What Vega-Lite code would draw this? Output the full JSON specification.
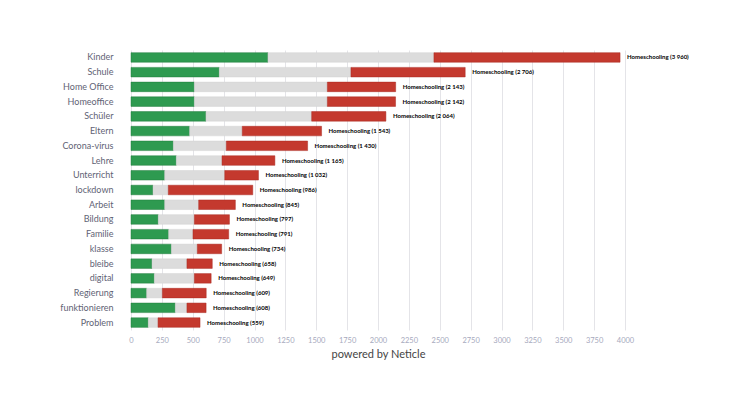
{
  "$schema": "https://vega.github.io/schema/vega-lite/v6.json",
  "autosize": "none",
  "width": 494,
  "height": 280,
  "padding": {"left": 131, "top": 50, "right": 123, "bottom": 66},
  "background": "white",
  "config": {
    "view": {"stroke": null},
    "font": "Lato"
  },
  "resolve": {"axis": {"x": "independent", "y": "independent"}},
  "datasets": {
    "segments": [
      {"term": "Kinder", "sentiment": "positive", "value": 1109},
      {"term": "Kinder", "sentiment": "neutral", "value": 1344},
      {"term": "Kinder", "sentiment": "negative", "value": 1507},
      {"term": "Schule", "sentiment": "positive", "value": 715},
      {"term": "Schule", "sentiment": "neutral", "value": 1066},
      {"term": "Schule", "sentiment": "negative", "value": 925},
      {"term": "Home Office", "sentiment": "positive", "value": 513},
      {"term": "Home Office", "sentiment": "neutral", "value": 1077},
      {"term": "Home Office", "sentiment": "negative", "value": 553},
      {"term": "Homeoffice", "sentiment": "positive", "value": 513},
      {"term": "Homeoffice", "sentiment": "neutral", "value": 1077},
      {"term": "Homeoffice", "sentiment": "negative", "value": 552},
      {"term": "Schüler", "sentiment": "positive", "value": 607},
      {"term": "Schüler", "sentiment": "neutral", "value": 856},
      {"term": "Schüler", "sentiment": "negative", "value": 601},
      {"term": "Eltern", "sentiment": "positive", "value": 475},
      {"term": "Eltern", "sentiment": "neutral", "value": 426},
      {"term": "Eltern", "sentiment": "negative", "value": 642},
      {"term": "Corona-virus", "sentiment": "positive", "value": 343},
      {"term": "Corona-virus", "sentiment": "neutral", "value": 429},
      {"term": "Corona-virus", "sentiment": "negative", "value": 658},
      {"term": "Lehre", "sentiment": "positive", "value": 367},
      {"term": "Lehre", "sentiment": "neutral", "value": 370},
      {"term": "Lehre", "sentiment": "negative", "value": 428},
      {"term": "Unterricht", "sentiment": "positive", "value": 273},
      {"term": "Unterricht", "sentiment": "neutral", "value": 486},
      {"term": "Unterricht", "sentiment": "negative", "value": 273},
      {"term": "lockdown", "sentiment": "positive", "value": 178},
      {"term": "lockdown", "sentiment": "neutral", "value": 124},
      {"term": "lockdown", "sentiment": "negative", "value": 684},
      {"term": "Arbeit", "sentiment": "positive", "value": 273},
      {"term": "Arbeit", "sentiment": "neutral", "value": 275},
      {"term": "Arbeit", "sentiment": "negative", "value": 297},
      {"term": "Bildung", "sentiment": "positive", "value": 221},
      {"term": "Bildung", "sentiment": "neutral", "value": 292},
      {"term": "Bildung", "sentiment": "negative", "value": 284},
      {"term": "Familie", "sentiment": "positive", "value": 305},
      {"term": "Familie", "sentiment": "neutral", "value": 197},
      {"term": "Familie", "sentiment": "negative", "value": 289},
      {"term": "klasse", "sentiment": "positive", "value": 327},
      {"term": "klasse", "sentiment": "neutral", "value": 210},
      {"term": "klasse", "sentiment": "negative", "value": 197},
      {"term": "bleibe", "sentiment": "positive", "value": 170},
      {"term": "bleibe", "sentiment": "neutral", "value": 283},
      {"term": "bleibe", "sentiment": "negative", "value": 205},
      {"term": "digital", "sentiment": "positive", "value": 189},
      {"term": "digital", "sentiment": "neutral", "value": 324},
      {"term": "digital", "sentiment": "negative", "value": 136},
      {"term": "Regierung", "sentiment": "positive", "value": 127},
      {"term": "Regierung", "sentiment": "neutral", "value": 127},
      {"term": "Regierung", "sentiment": "negative", "value": 355},
      {"term": "funktionieren", "sentiment": "positive", "value": 359},
      {"term": "funktionieren", "sentiment": "neutral", "value": 94},
      {"term": "funktionieren", "sentiment": "negative", "value": 155},
      {"term": "Problem", "sentiment": "positive", "value": 140},
      {"term": "Problem", "sentiment": "neutral", "value": 79},
      {"term": "Problem", "sentiment": "negative", "value": 340}
    ],
    "labels": [
      {"term": "Kinder", "total": 3960, "label": "Homeschooling (3 960)"},
      {"term": "Schule", "total": 2706, "label": "Homeschooling (2 706)"},
      {"term": "Home Office", "total": 2143, "label": "Homeschooling (2 143)"},
      {"term": "Homeoffice", "total": 2142, "label": "Homeschooling (2 142)"},
      {"term": "Schüler", "total": 2064, "label": "Homeschooling (2 064)"},
      {"term": "Eltern", "total": 1543, "label": "Homeschooling (1 543)"},
      {"term": "Corona-virus", "total": 1430, "label": "Homeschooling (1 430)"},
      {"term": "Lehre", "total": 1165, "label": "Homeschooling (1 165)"},
      {"term": "Unterricht", "total": 1032, "label": "Homeschooling (1 032)"},
      {"term": "lockdown", "total": 986, "label": "Homeschooling (986)"},
      {"term": "Arbeit", "total": 845, "label": "Homeschooling (845)"},
      {"term": "Bildung", "total": 797, "label": "Homeschooling (797)"},
      {"term": "Familie", "total": 791, "label": "Homeschooling (791)"},
      {"term": "klasse", "total": 734, "label": "Homeschooling (734)"},
      {"term": "bleibe", "total": 658, "label": "Homeschooling (658)"},
      {"term": "digital", "total": 649, "label": "Homeschooling (649)"},
      {"term": "Regierung", "total": 609, "label": "Homeschooling (609)"},
      {"term": "funktionieren", "total": 608, "label": "Homeschooling (608)"},
      {"term": "Problem", "total": 559, "label": "Homeschooling (559)"}
    ]
  },
  "layer": [
    {
      "data": {"name": "segments"},
      "mark": {"type": "bar", "strokeWidth": 0.8, "strokeOpacity": 0.6},
      "encoding": {
        "y": {
          "field": "term", "type": "nominal", "sort": null,
          "scale": {"paddingInner": 0.35, "paddingOuter": 0.18},
          "axis": {
            "title": null, "domain": false, "ticks": false, "grid": false,
            "labelPadding": 18, "labelFontSize": 9, "labelColor": "#5f6375", "labelFont": "Lato"
          }
        },
        "x": {
          "field": "value", "type": "quantitative", "aggregate": "sum", "stack": "zero",
          "scale": {"domain": [0, 4000], "nice": false},
          "axis": {
            "title": "powered by Neticle", "titleFontSize": 11, "titleFontWeight": "normal",
            "titleColor": "#444444", "titlePadding": 5, "titleFont": "Lato",
            "values": [0, 250, 500, 750, 1000, 1250, 1500, 1750, 2000, 2250, 2500, 2750, 3000, 3250, 3500, 3750, 4000],
            "labelOverlap": false, "grid": true,
            "domain": false, "ticks": false, "labelPadding": 6, "labelFontSize": 7.5,
            "labelColor": "#a6a9bd", "labelFlush": false, "gridColor": "#e4e4e8", "gridWidth": 1,
            "format": "d"
          }
        },
        "color": {
          "field": "sentiment", "type": "nominal", "legend": null,
          "scale": {"domain": ["positive", "neutral", "negative"], "range": ["#2e9a50", "#dcdcdc", "#c4392e"]}
        },
        "stroke": {
          "field": "sentiment", "type": "nominal", "legend": null,
          "scale": {"domain": ["positive", "neutral", "negative"], "range": ["#1f7a3c", "#d2d2d2", "#a8291f"]}
        },
        "order": {"field": "sentiment", "sort": "descending"}
      }
    },
    {
      "data": {"name": "labels"},
      "mark": {"type": "text", "align": "left", "baseline": "middle", "dx": 7, "fontSize": 6, "fontWeight": "bold", "color": "#000000", "font": "Lato"},
      "encoding": {
        "y": {"field": "term", "type": "nominal", "sort": null, "axis": null},
        "x": {"field": "total", "type": "quantitative", "axis": null},
        "text": {"field": "label"}
      }
    }
  ]
}
